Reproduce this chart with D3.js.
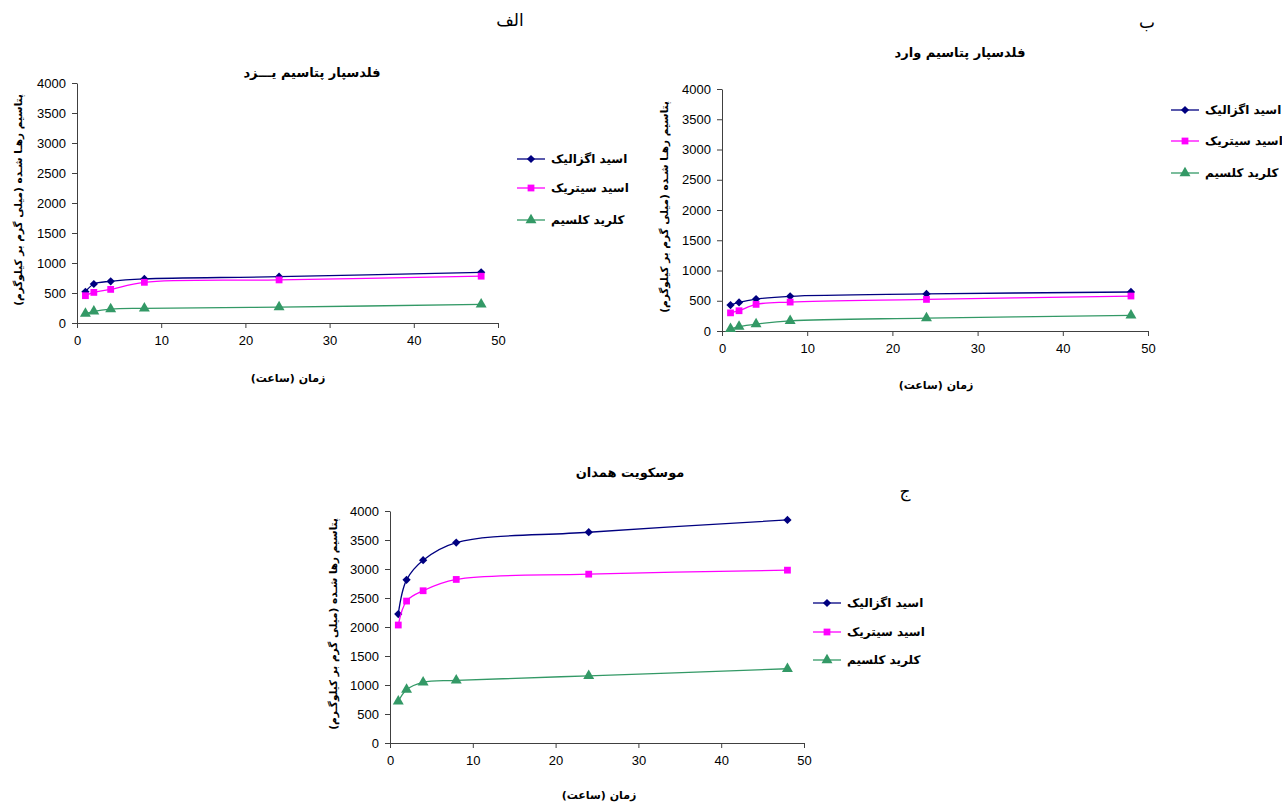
<!DOCTYPE html>
<html>
<head>
<meta charset="utf-8">
<script src="https://cdn.jsdelivr.net/npm/d3@7"></script>
<style>
  body { margin: 0; background: #fff; }
  svg { display: block; }
  .tick text { font-family: "Liberation Sans", Arial, sans-serif; font-size: 13px; fill: #000; }
  .fa { font-family: "DejaVu Sans", sans-serif; }
</style>
</head>
<body>
<div id="chart-area"></div>
<script>
// data, hours of extraction
var hours = [1, 2, 4, 8, 24, 48]
var seriesNames = ["اسید اگزالیک", "اسید سیتریک", "کلرید کلسیم"]
var xTicks = [0, 10, 20, 30, 40, 50]
var yTicks = [0, 500, 1000, 1500, 2000, 2500, 3000, 3500, 4000]

// الف - feldspar, Yazd
var yazdOxalic = [520, 650, 695, 735, 772, 845]
var yazdCitric = [455, 510, 560, 678, 718, 780]
var yazdCaCl = [155, 195, 232, 245, 265, 310]

// ب - feldspar, imported
var importOxalic = [428, 473, 528, 573, 612, 645]
var importCitric = [300, 335, 440, 478, 522, 578]
var importCaCl = [35, 72, 115, 168, 212, 258]

// ج - muscovite, Hamedan
var hamedanOxalic = [2224, 2813, 3152, 3456, 3634, 3846]
var hamedanCitric = [2034, 2447, 2625, 2820, 2911, 2980]
var hamedanCaCl = [718, 920, 1045, 1080, 1158, 1280]

var colors = ["#000080", "#ff00ff", "#339966"]
// diamond = square turned 45deg, like the spreadsheet marker
var symbols = [d3.symbolSquare, d3.symbolSquare, d3.symbolTriangle]
var symSizes = [34, 46, 52]
var symRot = [45, 0, 0]

var svg = d3.select("#chart-area")
  .append("svg")
    .attr("width", 1282)
    .attr("height", 803)

svg.append("rect").attr("width", 1282).attr("height", 803).attr("fill", "#fff")

// panel letters
var letters = [["الف", 510, 26], ["ب", 1147, 28], ["ج", 905, 497]]
letters.forEach(l => {
  svg.append("text").attr("class", "fa")
    .attr("x", l[1]).attr("y", l[2])
    .attr("text-anchor", "middle")
    .attr("font-size", "17px")
    .text(l[0])
})

var charts = [
  { left: 77, right: 498, top: 83, bottom: 323,
    title: "فلدسپار پتاسیم یـــزد", titleX: 312, titleY: 77,
    xTitle: "زمان (ساعت)", xTitleX: 288, xTitleY: 382, yTitleX: 18,
    yTitle: "پتاسیم رهـا شـده (میلی گرم بر کیلوگرم)",
    legendX: 517, legendY: [159, 188, 220],
    data: [yazdOxalic, yazdCitric, yazdCaCl] },
  { left: 722, right: 1148, top: 89, bottom: 331,
    title: "فلدسپار پتاسیم وارد", titleX: 960, titleY: 57,
    xTitle: "زمان  (ساعت)", xTitleX: 936, xTitleY: 389, yTitleX: 664,
    yTitle: "پتاسیم رهـا شـده (میلی گرم بر کیلوگرم)",
    legendX: 1171, legendY: [110, 141, 173],
    data: [importOxalic, importCitric, importCaCl] },
  { left: 390, right: 804, top: 511, bottom: 743,
    title: "موسکویت  همدان", titleX: 630, titleY: 477,
    xTitle: "زمان (ساعت)", xTitleX: 599, xTitleY: 799, yTitleX: 333,
    yTitle: "پتاسیم رها شـده (میلی گرم بر کیلوگـرم)",
    legendX: 813, legendY: [603, 632, 660],
    data: [hamedanOxalic, hamedanCitric, hamedanCaCl] }
]

charts.forEach(c => drawChart(c))

function marker(sel, s) {
  sel.attr("d", d3.symbol().type(symbols[s]).size(symSizes[s]))
    .attr("fill", colors[s])
}

function drawChart(c) {
  var x = d3.scaleLinear().domain([0, 50]).range([c.left, c.right])
  var y = d3.scaleLinear().domain([0, 4000]).range([c.bottom, c.top])

  // axes
  var xAxis = svg.append("g")
    .attr("transform", "translate(0," + c.bottom + ")")
    .call(d3.axisBottom(x).tickValues(xTicks).tickFormat(d3.format("d"))
      .tickSize(5).tickSizeOuter(0).tickPadding(8))
  var yAxis = svg.append("g")
    .attr("transform", "translate(" + c.left + ",0)")
    .call(d3.axisLeft(y).tickValues(yTicks).tickFormat(d3.format("d"))
      .tickSize(5).tickSizeOuter(0).tickPadding(6))
  ;[xAxis, yAxis].forEach(a => {
    a.select(".domain").attr("stroke", "#404040")
    a.selectAll(".tick line").attr("stroke", "#404040")
  })

  // title + axis titles
  svg.append("text").attr("class", "fa")
    .attr("x", c.titleX).attr("y", c.titleY)
    .attr("text-anchor", "middle")
    .attr("font-size", "13px").attr("font-weight", "bold")
    .text(c.title)
  svg.append("text").attr("class", "fa")
    .attr("x", c.xTitleX).attr("y", c.xTitleY)
    .attr("text-anchor", "middle")
    .attr("font-size", "11px").attr("font-weight", "bold")
    .text(c.xTitle)
  svg.append("text").attr("class", "fa")
    .attr("transform", "translate(" + c.yTitleX + "," + ((c.top + c.bottom) / 2 - 3) + ") rotate(-90)")
    .attr("text-anchor", "middle")
    .attr("dy", "0.35em")
    .attr("font-size", "10.5px").attr("font-weight", "bold")
    .text(c.yTitle)

  var line = d3.line()
    .x((d, i) => x(hours[i]))
    .y(d => y(d))
    .curve(d3.curveCatmullRom.alpha(0.5))

  c.data.forEach((vals, s) => {
    svg.append("path")
      .attr("d", line(vals))
      .attr("fill", "none")
      .attr("stroke", colors[s])
      .attr("stroke-width", 1.3)

    svg.selectAll(null)
      .data(vals)
      .enter().append("path")
        .call(marker, s)
        .attr("transform", (d, i) => "translate(" + x(hours[i]) + "," + y(d) + ") rotate(" + symRot[s] + ")")

    // legend row
    var ly = c.legendY[s]
    var row = svg.append("g").attr("transform", "translate(" + c.legendX + "," + ly + ")")
    row.append("line")
      .attr("x1", 0).attr("x2", 28)
      .attr("stroke", colors[s]).attr("stroke-width", 1.3)
    row.append("path")
      .call(marker, s)
      .attr("transform", "translate(14,0) rotate(" + symRot[s] + ")")
    row.append("text").attr("class", "fa")
      .attr("x", 34).attr("dy", "0.35em")
      .attr("direction", "rtl")
      .attr("text-anchor", "end")
      .attr("font-size", "12px").attr("font-weight", "bold")
      .text(seriesNames[s])
  })
}
</script>
</body>
</html>
